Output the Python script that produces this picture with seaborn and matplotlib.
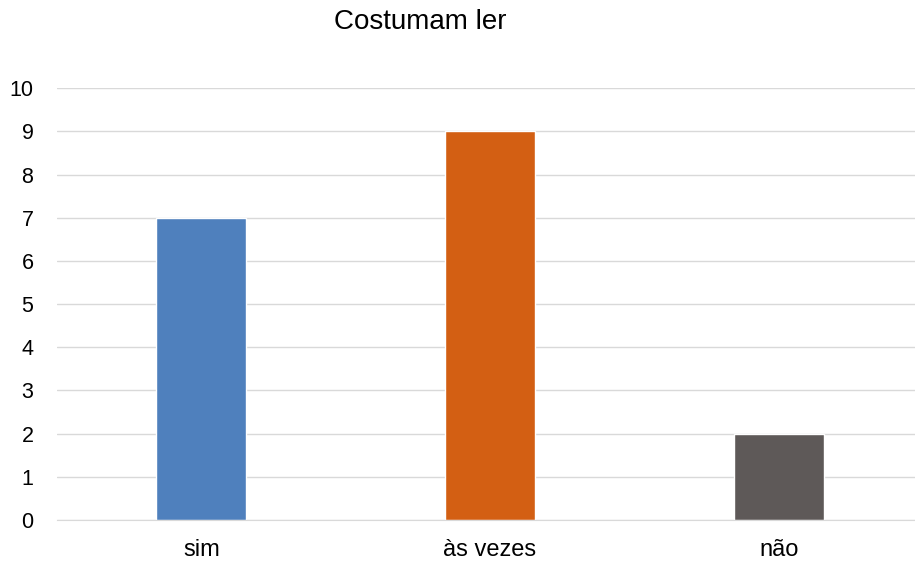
import matplotlib
matplotlib.use("Agg")
import matplotlib.pyplot as plt
import seaborn as sns
import pandas as pd

categories = ["sim", "às vezes", "não"]
values = [7, 9, 2]
colors = ["#4F80BD", "#D35F13", "#5E5958"]

sns.set_style("white")
plt.rcParams["font.family"] = ["Liberation Sans", "DejaVu Sans"]

df = pd.DataFrame({"cat": categories, "val": values})

fig = plt.figure(figsize=(9.15, 5.65), dpi=100)
ax = fig.add_axes([0.0623, 0.0796, 0.9465, 0.7644])

sns.barplot(data=df, x="cat", y="val", hue="cat", palette=colors,
            width=0.312, legend=False, ax=ax, saturation=1)

ax.set_ylim(0, 10)
ax.set_yticks(range(0, 11))
ax.set_xlim(-0.5, 2.5)
ax.yaxis.grid(True, color="#D9D9D9", linewidth=1)
ax.set_axisbelow(True)
for s in ["top", "right", "left"]:
    ax.spines[s].set_visible(False)
ax.spines["bottom"].set_color("#D9D9D9")
ax.set_xlabel("")
ax.set_ylabel("")
ax.tick_params(axis="both", length=0, colors="#000000")
ax.tick_params(axis="x", labelsize=17, pad=14)
ax.tick_params(axis="y", labelsize=15.5, pad=17)

fig.text(0.459, 0.961, "Costumam ler", ha="center", va="center",
         fontsize=20, color="#000000")

fig.savefig("out.png", dpi=100)
